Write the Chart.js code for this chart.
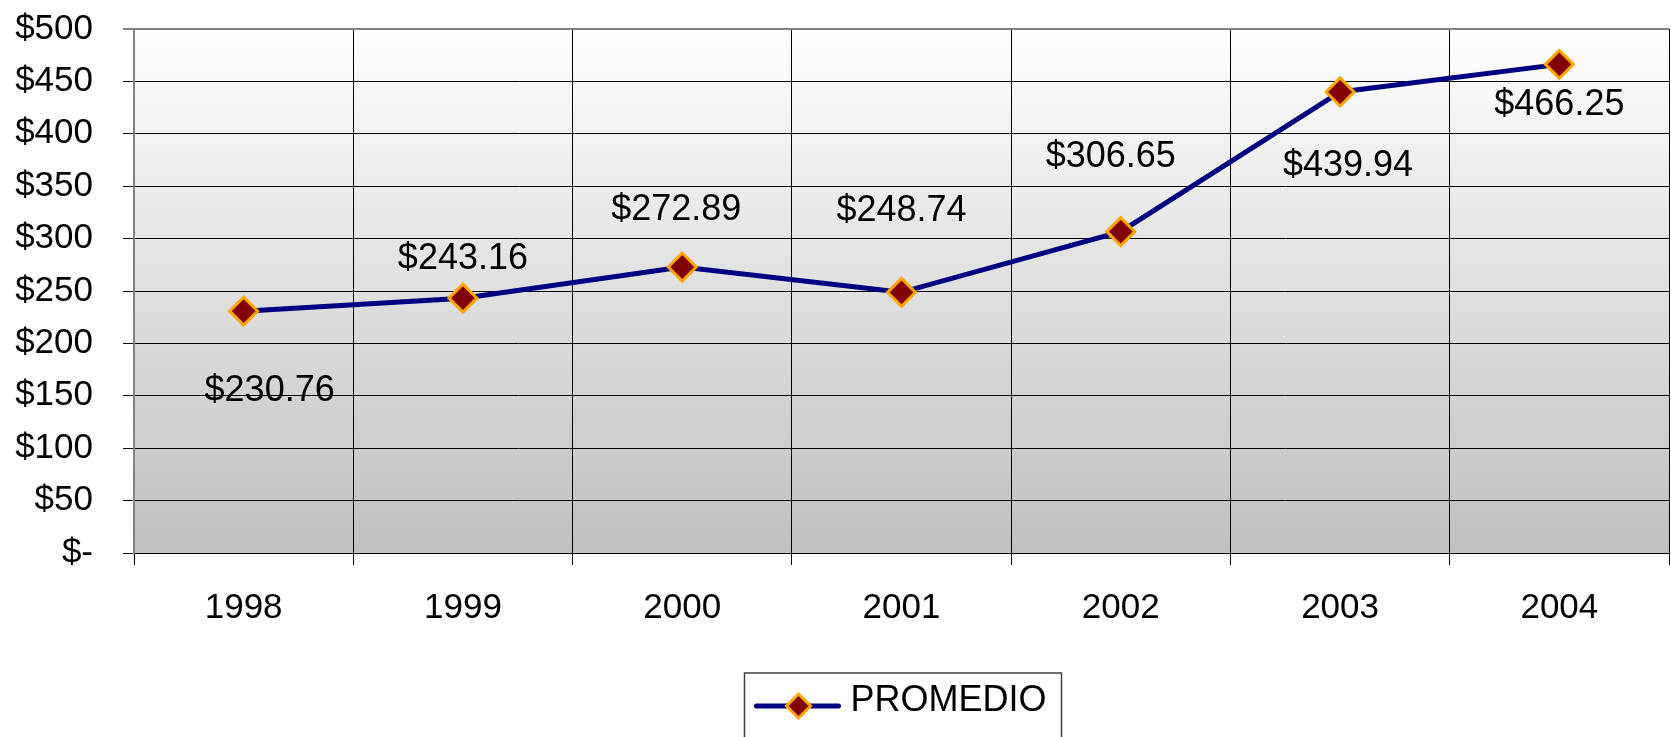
<!DOCTYPE html>
<html>
<head>
<meta charset="utf-8">
<script src="https://cdn.jsdelivr.net/npm/chart.js@4/dist/chart.umd.min.js"></script>
<style>
  html, body { margin: 0; padding: 0; background: #fff; }
  #wrap { width: 1671px; height: 737px; }
</style>
</head>
<body>
<div id="wrap"><canvas id="chart" width="1671" height="737"></canvas></div>
<script>
const years = ["1998", "1999", "2000", "2001", "2002", "2003", "2004"];
const promedio = [230.76, 243.16, 272.89, 248.74, 306.65, 439.94, 466.25];
const yTicks = [0, 50, 100, 150, 200, 250, 300, 350, 400, 450, 500];
const seriesName = "PROMEDIO";

// where each value label sits relative to its point (px)
const labelShift = [[26, 80], [0, -39], [-6, -57], [0, -81], [-10, -75], [8, 74], [0, 41]];

const FONT = "Arial, 'Liberation Sans', sans-serif";
const FONT_SIZE = 35;
const LINE_COLOR = "#000080";
const MARK_FILL = "#800000";
const MARK_EDGE = "#FFA500";

Chart.defaults.font.family = FONT;
Chart.defaults.font.size = FONT_SIZE;
Chart.defaults.color = "#000";

// empty placeholder; the legend symbol is painted by legendFrame
const blankIcon = document.createElement("canvas");
blankIcon.width = 1;
blankIcon.height = 1;

const plotBackground = {
  id: "plotBackground",
  beforeDraw(chart) {
    const { ctx, chartArea: a } = chart;
    const g = ctx.createLinearGradient(0, a.top, 0, a.bottom);
    g.addColorStop(0, "#ffffff");
    g.addColorStop(1, "#c0c0c0");
    ctx.save();
    ctx.fillStyle = g;
    ctx.fillRect(a.left, a.top, a.right - a.left, a.bottom - a.top);
    ctx.restore();
  },
};

const valueLabels = {
  id: "valueLabels",
  afterDatasetsDraw(chart) {
    const { ctx } = chart;
    const meta = chart.getDatasetMeta(0);
    ctx.save();
    ctx.font = "36px " + FONT;
    ctx.fillStyle = "#000";
    ctx.textAlign = "center";
    ctx.textBaseline = "middle";
    meta.data.forEach((pt, i) => {
      const v = chart.data.datasets[0].data[i];
      ctx.fillText("$" + v.toFixed(2), pt.x + labelShift[i][0], pt.y + labelShift[i][1]);
    });
    ctx.restore();
  },
};

const legendFrame = {
  id: "legendFrame",
  afterDraw(chart) {
    const lg = chart.legend;
    if (!lg || !lg.legendHitBoxes.length) return;
    const hb = lg.legendHitBoxes[0];
    const { ctx } = chart;
    const cy = hb.top + hb.height / 2 + 5;
    ctx.save();
    ctx.strokeStyle = "#404040";
    ctx.lineWidth = 1.5;
    ctx.strokeRect(hb.left - 12, lg.top, hb.width + 27, chart.height - lg.top + 10);
    // symbol: line with diamond
    ctx.strokeStyle = LINE_COLOR;
    ctx.lineWidth = 5;
    ctx.lineCap = "round";
    ctx.beginPath();
    ctx.moveTo(hb.left, cy);
    ctx.lineTo(hb.left + 82, cy);
    ctx.stroke();
    const cx = hb.left + 42;
    const r = 12;
    ctx.beginPath();
    ctx.moveTo(cx, cy - r);
    ctx.lineTo(cx + r, cy);
    ctx.lineTo(cx, cy + r);
    ctx.lineTo(cx - r, cy);
    ctx.closePath();
    ctx.fillStyle = MARK_FILL;
    ctx.fill();
    ctx.strokeStyle = MARK_EDGE;
    ctx.lineWidth = 3;
    ctx.lineJoin = "miter";
    ctx.stroke();
    ctx.restore();
  },
};

new Chart(document.getElementById("chart").getContext("2d"), {
  type: "line",
  data: {
    labels: years,
    datasets: [
      {
        label: seriesName,
        data: promedio,
        borderColor: LINE_COLOR,
        borderWidth: 5,
        tension: 0,
        pointStyle: "rectRot",
        pointRadius: 14,
        pointHoverRadius: 14,
        pointBackgroundColor: MARK_FILL,
        pointBorderColor: MARK_EDGE,
        pointBorderWidth: 3,
      },
    ],
  },
  options: {
    responsive: false,
    animation: false,
    devicePixelRatio: 1,
    layout: { autoPadding: false, padding: { top: 29, right: 2, left: 0, bottom: 8 } },
    scales: {
      x: {
        type: "category",
        offset: true,
        afterFit(scale) {
          scale.height += 22;
          scale.paddingLeft = 0;
          scale.paddingRight = 0;
        },
        grid: {
          offset: true,
          color: (c) => (c.index === years.length ? "#808080" : "#000"),
          lineWidth: (c) => (c.index === years.length ? 2 : 1),
          tickLength: 12,
        },
        border: { color: "#000", width: 1 },
        ticks: { padding: 22, maxRotation: 0, font: { size: FONT_SIZE } },
      },
      y: {
        min: 0,
        max: 500,
        afterBuildTicks(scale) {
          scale.ticks = yTicks.map((v) => ({ value: v }));
        },
        afterFit(scale) {
          scale.width = 134;
          scale.paddingTop = 0;
          scale.paddingBottom = 0;
        },
        grid: {
          color: (c) => (c.tick && c.tick.value === 500 ? "#808080" : "#000"),
          lineWidth: (c) => (c.tick && c.tick.value === 500 ? 2 : 1),
          tickLength: 11,
        },
        border: { color: "#808080", width: 2 },
        ticks: {
          padding: 30,
          font: { size: FONT_SIZE },
          callback: (v) => (v === 0 ? "$-" : "$" + v),
        },
      },
    },
    plugins: {
      legend: {
        position: "bottom",
        fullSize: false,
        labels: {
          usePointStyle: true,
          pointStyleWidth: 76,
          padding: 10,
          font: { size: 36 },
          color: "#000",
          generateLabels: () => [
            {
              text: seriesName,
              pointStyle: blankIcon,
              fillStyle: MARK_FILL,
              strokeStyle: MARK_EDGE,
              lineWidth: 0,
              hidden: false,
              datasetIndex: 0,
            },
          ],
        },
      },
      tooltip: { enabled: false },
    },
  },
  plugins: [plotBackground, valueLabels, legendFrame],
});
</script>
</body>
</html>
